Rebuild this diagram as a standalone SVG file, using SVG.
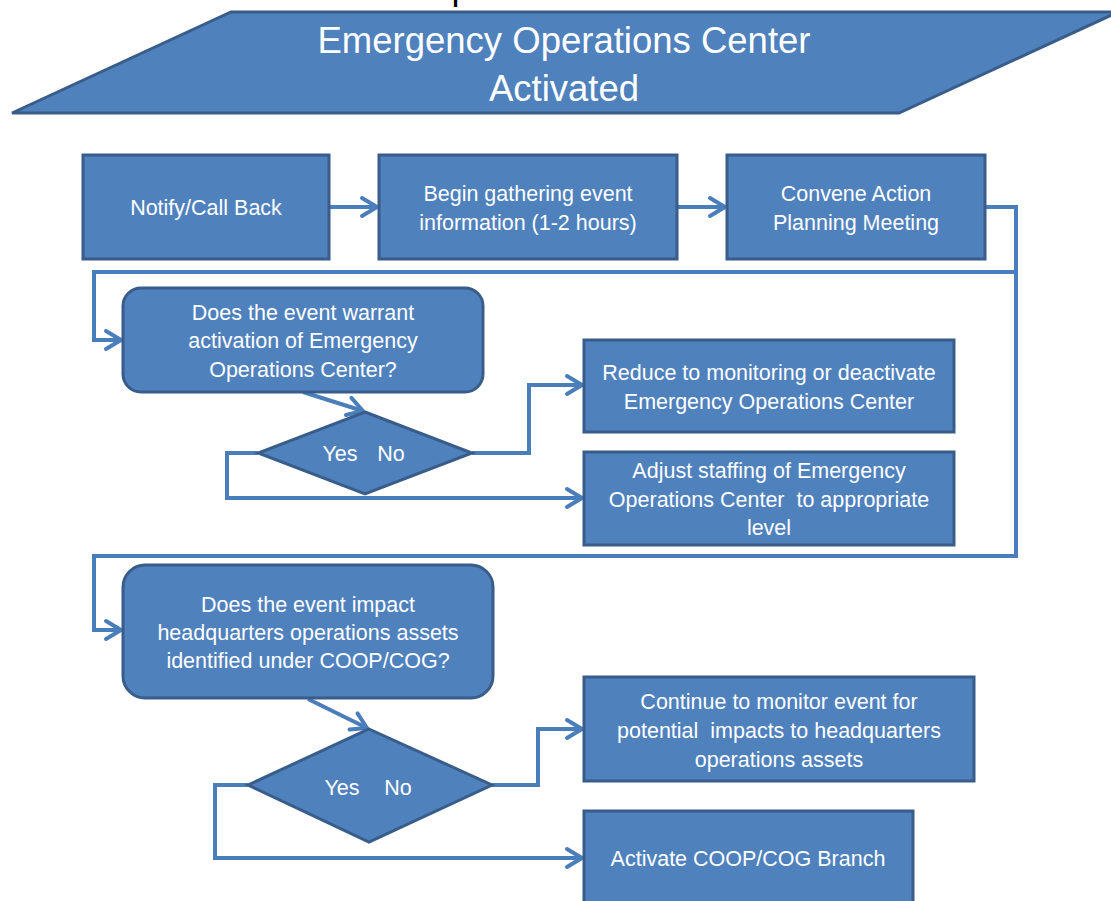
<svg xmlns="http://www.w3.org/2000/svg" width="1111" height="901" viewBox="0 0 1111 901">
<defs>
<style>
.box{fill:#4F81BD;stroke:#385D8A;stroke-width:3}
.t{font-family:"Liberation Sans",Arial,sans-serif;font-size:21.5px;fill:#FFFFFF;text-anchor:middle}
.title{font-family:"Liberation Sans",Arial,sans-serif;font-size:36.5px;fill:#FFFFFF;text-anchor:middle}
.c{fill:none;stroke:#4A7EBB;stroke-width:4;stroke-linejoin:miter}
</style>
<marker id="ah" markerWidth="24" markerHeight="26" refX="18" refY="11" orient="auto" markerUnits="userSpaceOnUse" overflow="visible">
<path d="M3,2 L18,11 L3,20" fill="none" stroke="#4A7EBB" stroke-width="4" stroke-linecap="round" stroke-linejoin="round"/>
</marker>
</defs>
<rect width="1111" height="901" fill="#FFFFFF"/>
<text x="451.5" y="-1" style="font-family:'Liberation Sans',Arial,sans-serif;font-size:36px;fill:#000000">p</text>

<g id="connectors">
<path class="c" d="M329,207 H377" marker-end="url(#ah)"/>
<path class="c" d="M677,207 H725" marker-end="url(#ah)"/>
<path class="c" d="M985,207 H1016 V272 H94 V340 H121" marker-end="url(#ah)"/>
<path class="c" d="M1016,272 V556 H94 V630 H121" marker-end="url(#ah)"/>
<path class="c" d="M303,392 L363,411" marker-end="url(#ah)"/>
<path class="c" d="M472,453 H529 V385 H582" marker-end="url(#ah)"/>
<path class="c" d="M258,453 H227 V498 H582" marker-end="url(#ah)"/>
<path class="c" d="M308,699 L367,728" marker-end="url(#ah)"/>
<path class="c" d="M492,785 H538 V729 H582" marker-end="url(#ah)"/>
<path class="c" d="M248,785 H215 V858 H582" marker-end="url(#ah)"/>
</g>

<g id="start">
<polygon class="box" points="231,12 1118,12 899,113 12,113"/>
<text class="title" x="564" y="53">Emergency Operations Center</text>
<text class="title" x="564" y="101">Activated</text>
</g>

<g id="notify">
<rect class="box" x="83" y="155" width="246" height="104"/>
<text class="t" x="206" y="215">Notify/Call Back</text>
</g>

<g id="gather">
<rect class="box" x="379" y="155" width="298" height="104"/>
<text class="t" x="528" y="201">Begin gathering event</text>
<text class="t" x="528" y="230">information (1-2 hours)</text>
</g>

<g id="convene">
<rect class="box" x="727" y="155" width="258" height="104"/>
<text class="t" x="856" y="201">Convene Action</text>
<text class="t" x="856" y="230">Planning Meeting</text>
</g>

<g id="decision1">
<rect class="box" x="123" y="288" width="360" height="104" rx="18" ry="18"/>
<text class="t" x="303" y="320">Does the event warrant</text>
<text class="t" x="303" y="348">activation of Emergency</text>
<text class="t" x="303" y="377">Operations Center?</text>
</g>

<g id="diamond1">
<polygon class="box" points="365,412 472,453 365,494 258,453"/>
<text class="t" x="340" y="461">Yes</text>
<text class="t" x="391" y="461">No</text>
</g>

<g id="reduce">
<rect class="box" x="584" y="340" width="370" height="92"/>
<text class="t" x="769" y="380">Reduce to monitoring or deactivate</text>
<text class="t" x="769" y="409">Emergency Operations Center</text>
</g>

<g id="adjust">
<rect class="box" x="584" y="452" width="370" height="93"/>
<text class="t" x="769" y="478">Adjust staffing of Emergency</text>
<text class="t" x="769" y="507" xml:space="preserve">Operations Center  to appropriate</text>
<text class="t" x="769" y="535">level</text>
</g>

<g id="decision2">
<rect class="box" x="123" y="565" width="370" height="133" rx="22" ry="22"/>
<text class="t" x="308" y="612">Does the event impact</text>
<text class="t" x="308" y="640">headquarters operations assets</text>
<text class="t" x="308" y="668">identified under COOP/COG?</text>
</g>

<g id="diamond2">
<polygon class="box" points="369,729 492,785 369,842 248,785"/>
<text class="t" x="342" y="795">Yes</text>
<text class="t" x="398" y="795">No</text>
</g>

<g id="continue">
<rect class="box" x="584" y="677" width="390" height="104"/>
<text class="t" x="779" y="709">Continue to monitor event for</text>
<text class="t" x="779" y="738" xml:space="preserve">potential  impacts to headquarters</text>
<text class="t" x="779" y="767">operations assets</text>
</g>

<g id="activate">
<rect class="box" x="584" y="811" width="329" height="100"/>
<text class="t" x="748" y="866">Activate COOP/COG Branch</text>
</g>
</svg>
